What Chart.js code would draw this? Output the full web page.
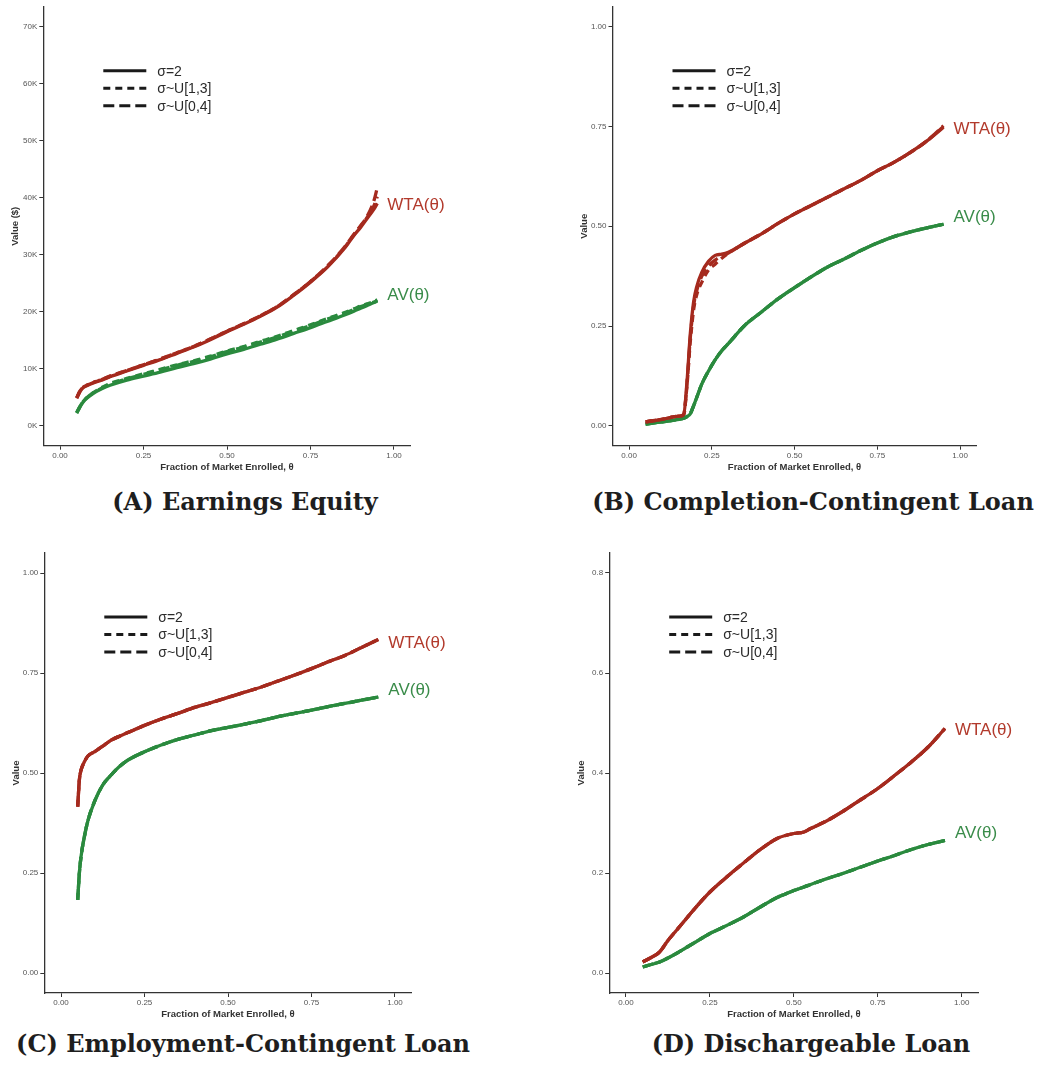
<!DOCTYPE html>
<html>
<head>
<meta charset="utf-8">
<script src="https://cdn.jsdelivr.net/npm/chart.js@4.4.1/dist/chart.umd.min.js"></script>
<style>
  body { margin: 0; background: #fff; width: 1039px; height: 1066px; position: relative; overflow: hidden; }
  canvas { position: absolute; }
  .cap { position: absolute; font-family: "DejaVu Serif", serif; font-weight: bold; font-size: 24px; color: #1e1e1e; white-space: nowrap; transform: translate(-50%, -50%); }
</style>
</head>
<body>
<canvas id="chartA" width="520" height="480" style="left:0;top:0"></canvas>
<canvas id="chartB" width="519" height="480" style="left:520px;top:0"></canvas>
<canvas id="chartC" width="520" height="480" style="left:0;top:540px"></canvas>
<canvas id="chartD" width="519" height="480" style="left:520px;top:540px"></canvas>
<div class="cap" style="left:245px;top:501px">(A) Earnings Equity</div>
<div class="cap" style="left:813px;top:501px">(B) Completion-Contingent Loan</div>
<div class="cap" style="left:243px;top:1043px">(C) Employment-Contingent Loan</div>
<div class="cap" style="left:811px;top:1043px">(D) Dischargeable Loan</div>
<script>
// shared labels / ticks
const xTicks = [0, 0.25, 0.5, 0.75, 1];
const legendLabels = ['σ=2', 'σ~U[1,3]', 'σ~U[0,4]'];
const legendDash = [[], [7, 5], [11, 5]];
const curveNames = ['WTA(θ)', 'AV(θ)'];
const xTitle = 'Fraction of Market Enrolled, θ';

// (A) Earnings Equity, values in $K
const thetaA = [0.05, 0.06, 0.07, 0.08, 0.10, 0.125, 0.15, 0.20, 0.25, 0.30, 0.35, 0.40, 0.45, 0.50, 0.55, 0.60, 0.65, 0.70, 0.75, 0.80, 0.85, 0.88, 0.90, 0.92, 0.94, 0.95];
const wtaA = [4.8, 6.0, 6.7, 7.0, 7.5, 8.0, 8.6, 9.6, 10.6, 11.6, 12.7, 13.8, 15.1, 16.5, 17.8, 19.2, 20.8, 22.9, 25.2, 27.8, 31.0, 33.4, 34.8, 36.4, 38.0, 39.0];
const wtaA13 = [4.9, 6.1, 6.8, 7.1, 7.6, 8.1, 8.7, 9.7, 10.7, 11.7, 12.8, 13.9, 15.2, 16.6, 17.9, 19.3, 20.9, 23.0, 25.3, 27.9, 31.1, 33.5, 35.0, 36.6, 38.6, 40.2];
const wtaA04 = [4.9, 6.1, 6.8, 7.1, 7.6, 8.1, 8.7, 9.7, 10.7, 11.7, 12.8, 13.9, 15.2, 16.6, 17.9, 19.3, 20.9, 23.0, 25.3, 28.0, 31.2, 33.6, 35.1, 36.8, 39.5, 41.8];
const avA = [2.2, 3.3, 4.2, 4.8, 5.7, 6.5, 7.1, 8.0, 8.7, 9.4, 10.2, 10.9, 11.7, 12.6, 13.4, 14.3, 15.2, 16.2, 17.2, 18.3, 19.4, 20.1, 20.6, 21.1, 21.6, 21.9];
const avA13 = [2.3, 3.4, 4.3, 4.9, 5.8, 6.7, 7.4, 8.3, 9.1, 9.9, 10.7, 11.4, 12.2, 13.1, 13.9, 14.8, 15.7, 16.7, 17.7, 18.8, 19.8, 20.5, 21.0, 21.4, 21.8, 22.1];
const avA04 = [2.3, 3.4, 4.3, 4.9, 5.8, 6.6, 7.3, 8.2, 9.0, 9.8, 10.6, 11.3, 12.1, 13.0, 13.8, 14.7, 15.6, 16.6, 17.6, 18.7, 19.7, 20.4, 20.9, 21.3, 21.7, 22.0];
const yTicksA = [0, 10, 20, 30, 40, 50, 60, 70];

// (B) Completion-Contingent Loan
const thetaB = [0.05, 0.10, 0.15, 0.165, 0.175, 0.185, 0.195, 0.205, 0.22, 0.24, 0.26, 0.28, 0.30, 0.35, 0.40, 0.45, 0.50, 0.55, 0.60, 0.65, 0.70, 0.75, 0.80, 0.85, 0.90, 0.95];
const wtaB = [0.010, 0.016, 0.024, 0.028, 0.110, 0.230, 0.310, 0.350, 0.385, 0.412, 0.427, 0.430, 0.435, 0.458, 0.481, 0.507, 0.531, 0.552, 0.573, 0.594, 0.615, 0.639, 0.660, 0.685, 0.714, 0.748];
const wtaB13 = [0.010, 0.016, 0.024, 0.028, 0.100, 0.210, 0.290, 0.330, 0.360, 0.390, 0.405, 0.420, 0.432, 0.458, 0.481, 0.507, 0.531, 0.552, 0.573, 0.594, 0.615, 0.639, 0.660, 0.685, 0.714, 0.750];
const wtaB04 = [0.010, 0.016, 0.024, 0.028, 0.105, 0.220, 0.300, 0.340, 0.375, 0.400, 0.415, 0.425, 0.433, 0.458, 0.481, 0.507, 0.531, 0.552, 0.573, 0.594, 0.615, 0.639, 0.660, 0.685, 0.714, 0.752];
const avB = [0.004, 0.010, 0.016, 0.019, 0.023, 0.030, 0.050, 0.072, 0.105, 0.137, 0.165, 0.188, 0.206, 0.252, 0.285, 0.318, 0.346, 0.373, 0.398, 0.418, 0.439, 0.458, 0.474, 0.486, 0.496, 0.505];
const yTicksB = [0, 0.25, 0.5, 0.75, 1];

// (C) Employment-Contingent Loan
const thetaC = [0.05, 0.055, 0.06, 0.07, 0.08, 0.10, 0.125, 0.15, 0.175, 0.20, 0.25, 0.30, 0.35, 0.40, 0.45, 0.50, 0.55, 0.60, 0.65, 0.70, 0.75, 0.80, 0.85, 0.90, 0.95];
const wtaC = [0.416, 0.483, 0.507, 0.528, 0.542, 0.553, 0.567, 0.582, 0.592, 0.601, 0.619, 0.635, 0.649, 0.664, 0.676, 0.689, 0.702, 0.715, 0.730, 0.745, 0.761, 0.778, 0.794, 0.814, 0.834];
const avC = [0.183, 0.250, 0.291, 0.341, 0.379, 0.428, 0.470, 0.495, 0.516, 0.532, 0.553, 0.570, 0.584, 0.595, 0.606, 0.614, 0.622, 0.631, 0.641, 0.649, 0.657, 0.666, 0.674, 0.682, 0.690];
const yTicksC = [0, 0.25, 0.5, 0.75, 1];

// (D) Dischargeable Loan
const thetaD = [0.05, 0.075, 0.10, 0.125, 0.15, 0.175, 0.20, 0.25, 0.30, 0.35, 0.40, 0.45, 0.475, 0.50, 0.53, 0.55, 0.60, 0.65, 0.70, 0.75, 0.80, 0.85, 0.90, 0.95];
const wtaD = [0.022, 0.031, 0.042, 0.065, 0.085, 0.105, 0.125, 0.162, 0.192, 0.220, 0.247, 0.269, 0.275, 0.279, 0.282, 0.289, 0.305, 0.325, 0.347, 0.369, 0.395, 0.422, 0.452, 0.489];
const avD = [0.012, 0.017, 0.022, 0.030, 0.039, 0.049, 0.059, 0.079, 0.095, 0.112, 0.132, 0.151, 0.158, 0.165, 0.172, 0.177, 0.189, 0.200, 0.212, 0.224, 0.235, 0.247, 0.257, 0.265];
const yTicksD = [0, 0.2, 0.4, 0.6, 0.8];

const wtaColor = '#a52a1e';
const avColor = '#2a8a3e';
const wtaText = '#b23a2c';
const avText = '#3a8c4a';
const axisColor = '#333';
const sans = '"Liberation Sans", Arial, sans-serif';

// legend + end-of-curve labels, drawn on top of the lines
const panelDecor = {
  id: 'panelDecor',
  afterDatasetsDraw(chart, args, opts) {
    const { ctx, chartArea, scales: { x, y } } = chart;
    ctx.save();
    ctx.textBaseline = 'middle';
    ctx.textAlign = 'left';
    ctx.font = '17px ' + sans;
    const lx = x.getPixelForValue(0.95) + 10;
    ctx.fillStyle = wtaText;
    ctx.fillText(curveNames[0], lx, y.getPixelForValue(opts.wtaLabel));
    ctx.fillStyle = avText;
    ctx.fillText(curveNames[1], lx, y.getPixelForValue(opts.avLabel));

    const gx = chartArea.left + 60, gy = chartArea.top + 64;
    ctx.font = '14px ' + sans;
    legendLabels.forEach((lab, i) => {
      const yy = gy + i * 17.5;
      ctx.setLineDash(legendDash[i]);
      ctx.lineWidth = 3;
      ctx.strokeStyle = '#1a1a1a';
      ctx.beginPath();
      ctx.moveTo(gx, yy);
      ctx.lineTo(gx + 43, yy);
      ctx.stroke();
      ctx.setLineDash([]);
      ctx.fillStyle = '#2a2a2a';
      ctx.fillText(lab, gx + 54, yy + 1);
    });
    ctx.restore();
  }
};

function line(theta, vals, color, dash) {
  return {
    data: theta.map((t, i) => ({ x: t, y: vals[i] })),
    borderColor: color,
    borderWidth: 3.3,
    borderDash: dash,
    pointRadius: 0,
    cubicInterpolationMode: 'monotone',
    borderJoinStyle: 'round',
    fill: false
  };
}

function makePanel(id, p) {
  const datasets = [];
  // dashed variants underneath, sigma=2 on top
  [2, 1, 0].forEach(k => datasets.push(line(p.theta, p.wta[k], wtaColor, legendDash[k])));
  [2, 1, 0].forEach(k => datasets.push(line(p.theta, p.av[k], avColor, legendDash[k])));

  new Chart(document.getElementById(id), {
    type: 'line',
    data: { datasets },
    options: {
      responsive: false,
      animation: false,
      devicePixelRatio: 1,
      layout: { padding: p.pad },
      plugins: {
        legend: { display: false },
        tooltip: { enabled: false },
        panelDecor: { wtaLabel: p.wtaLabel, avLabel: p.avLabel }
      },
      scales: {
        x: {
          type: 'linear', min: -0.05, max: 1.05,
          afterBuildTicks: s => { s.ticks = xTicks.map(v => ({ value: v })); },
          afterFit: s => { s.height = 30; },
          ticks: { callback: v => v.toFixed(2), font: { family: sans, size: 8 }, color: '#555', padding: 1, maxRotation: 0 },
          grid: { drawOnChartArea: false, tickLength: 4, color: axisColor, lineWidth: 1 },
          border: { color: axisColor, width: 1.3 },
          title: { display: true, text: xTitle, font: { family: sans, size: 9.5, weight: 'bold' }, color: '#333', padding: { top: 0, bottom: 3 } }
        },
        y: {
          type: 'linear', min: p.yMin, max: p.yMax,
          afterBuildTicks: s => { s.ticks = p.yTicks.map(v => ({ value: v })); },
          afterFit: s => { s.width = 40; },
          ticks: { callback: p.fmt, font: { family: sans, size: 8 }, color: '#555', padding: 2 },
          grid: { drawOnChartArea: false, tickLength: 4, color: axisColor, lineWidth: 1 },
          border: { color: axisColor, width: 1.3 },
          title: { display: true, text: p.yTitle, font: { family: sans, size: 9.5, weight: 'bold' }, color: '#333', padding: { top: 6, bottom: 0 } }
        }
      }
    },
    plugins: [panelDecor]
  });
}

makePanel('chartA', {
  theta: thetaA, wta: [wtaA, wtaA13, wtaA04], av: [avA, avA13, avA04],
  yMin: -3.5, yMax: 73.5, yTicks: yTicksA, fmt: v => v + 'K', yTitle: 'Value ($)',
  wtaLabel: 38.6, avLabel: 22.9,
  pad: { left: 3.3, top: 5.7, right: 520 - 410.7, bottom: 480 - 445.7 - 30 }
});
makePanel('chartB', {
  theta: thetaB, wta: [wtaB, wtaB13, wtaB04], av: [avB, avB, avB],
  yMin: -0.05, yMax: 1.05, yTicks: yTicksB, fmt: v => v.toFixed(2), yTitle: 'Value',
  wtaLabel: 0.744, avLabel: 0.522,
  pad: { left: 52.5, top: 5.7, right: 519 - 456.6, bottom: 480 - 445.7 - 30 }
});
makePanel('chartC', {
  theta: thetaC, wta: [wtaC, wtaC, wtaC], av: [avC, avC, avC],
  yMin: -0.05, yMax: 1.05, yTicks: yTicksC, fmt: v => v.toFixed(2), yTitle: 'Value',
  wtaLabel: 0.824, avLabel: 0.707,
  pad: { left: 4.3, top: 13, right: 520 - 411.7, bottom: 480 - 453 - 30 }
});
makePanel('chartD', {
  theta: thetaD, wta: [wtaD, wtaD, wtaD], av: [avD, avD, avD],
  yMin: -0.04, yMax: 0.84, yTicks: yTicksD, fmt: v => v.toFixed(1), yTitle: 'Value',
  wtaLabel: 0.485, avLabel: 0.279,
  pad: { left: 49.2, top: 13, right: 519 - 458.5, bottom: 480 - 453 - 30 }
});
</script>
</body>
</html>
